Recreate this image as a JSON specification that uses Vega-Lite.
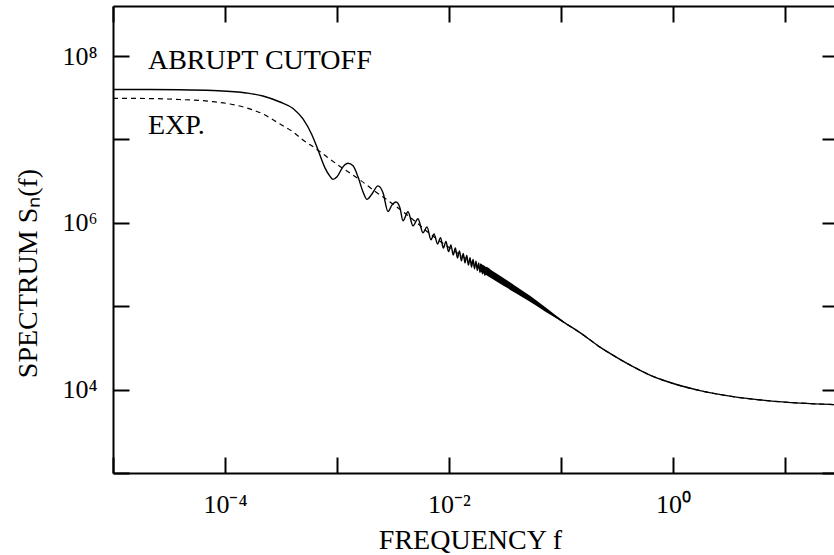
{
  "$schema": "https://vega.github.io/schema/vega-lite/v6.json",
  "width": 721,
  "height": 467,
  "autosize": {"type": "none"},
  "padding": {"left": 113, "top": 6, "right": 0, "bottom": 82},
  "background": "white",
  "config": {
    "view": {"stroke": null},
    "axis": {
      "grid": false,
      "domainColor": "black",
      "domainWidth": 2,
      "tickColor": "black",
      "tickWidth": 2,
      "labelFont": "Liberation Serif",
      "labelFontSize": 26,
      "labelColor": "black",
      "titleFont": "Liberation Serif",
      "titleFontSize": 28,
      "titleFontWeight": "normal",
      "titleColor": "black",
      "labelOverlap": false,
      "labelBound": false,
      "labelFlush": false
    }
  },
  "datasets": {
    "band": [
      {"f": 0.01891, "lo": 263000, "hi": 327000},
      {"f": 0.0268, "lo": 197000, "hi": 245000},
      {"f": 0.03885, "lo": 145500, "hi": 176500},
      {"f": 0.0529, "lo": 113200, "hi": 133600},
      {"f": 0.072, "lo": 86600, "hi": 97800},
      {"f": 0.0884, "lo": 73200, "hi": 79100},
      {"f": 0.1086, "lo": 61900, "hi": 64000},
      {"f": 0.1334, "lo": 52600, "hi": 52600}
    ],
    "dashed": [
      {"f": 0.00001, "S": 31100000},
      {"f": 0.0000214, "S": 30900000},
      {"f": 0.0000396, "S": 30100000},
      {"f": 0.0000781, "S": 28400000},
      {"f": 0.0001108, "S": 26600000},
      {"f": 0.000154, "S": 24000000},
      {"f": 0.000218, "S": 20200000},
      {"f": 0.00031, "S": 15300000},
      {"f": 0.000405, "S": 12300000},
      {"f": 0.000497, "S": 9860000},
      {"f": 0.000663, "S": 7590000},
      {"f": 0.000814, "S": 6170000},
      {"f": 0.001064, "S": 4750000},
      {"f": 0.001605, "S": 3270000},
      {"f": 0.0021, "S": 2480000},
      {"f": 0.0031, "S": 1710000},
      {"f": 0.00467, "S": 1120000},
      {"f": 0.00677, "S": 738000},
      {"f": 0.01334, "S": 392000},
      {"f": 0.0268, "S": 219000},
      {"f": 0.0529, "S": 123000},
      {"f": 0.1042, "S": 65200},
      {"f": 0.1478, "S": 48200},
      {"f": 0.223, "S": 32300},
      {"f": 0.3162, "S": 24200},
      {"f": 0.4394, "S": 18860},
      {"f": 0.6232, "S": 14920},
      {"f": 0.884, "S": 12500},
      {"f": 1.742, "S": 9730},
      {"f": 3.434, "S": 8240},
      {"f": 6.91, "S": 7380},
      {"f": 13.61, "S": 6890},
      {"f": 27.38, "S": 6610}
    ],
    "solid": [
      {"f": 0.00001, "S": 39700000},
      {"f": 0.0000214, "S": 39700000},
      {"f": 0.0000396, "S": 39500000},
      {"f": 0.0000781, "S": 38600000},
      {"f": 0.000154, "S": 36100000},
      {"f": 0.000218, "S": 33200000},
      {"f": 0.00031, "S": 28100000},
      {"f": 0.000405, "S": 23500000},
      {"f": 0.000497, "S": 17600000},
      {"f": 0.000598, "S": 11300000},
      {"f": 0.000677, "S": 7480000},
      {"f": 0.000781, "S": 4560000},
      {"f": 0.000866, "S": 3610000},
      {"f": 0.000921, "S": 3320000},
      {"f": 0.001, "S": 3560000},
      {"f": 0.001131, "S": 4690000},
      {"f": 0.001253, "S": 5170000},
      {"f": 0.00139, "S": 4820000},
      {"f": 0.00154, "S": 3560000},
      {"f": 0.001707, "S": 2350000},
      {"f": 0.001853, "S": 1910000},
      {"f": 0.002054, "S": 2220000},
      {"f": 0.002323, "S": 2770000},
      {"f": 0.002575, "S": 2290000},
      {"f": 0.002853, "S": 1370000},
      {"f": 0.003099, "S": 1640000},
      {"f": 0.003363, "S": 1780000},
      {"f": 0.00365, "S": 1510000},
      {"f": 0.003884, "S": 1060000},
      {"f": 0.004303, "S": 1360000},
      {"f": 0.004771, "S": 920000},
      {"f": 0.005286, "S": 1120000},
      {"f": 0.005859, "S": 759000},
      {"f": 0.00636, "S": 895000},
      {"f": 0.00691, "S": 625000},
      {"f": 0.00735, "S": 738000},
      {"f": 0.0079, "S": 557000},
      {"f": 0.0084, "S": 665000},
      {"f": 0.0089, "S": 498000},
      {"f": 0.0094, "S": 598000},
      {"f": 0.0099, "S": 451000},
      {"f": 0.0104, "S": 544000},
      {"f": 0.0109, "S": 412000},
      {"f": 0.0114, "S": 498000},
      {"f": 0.0119, "S": 378000},
      {"f": 0.0124, "S": 460000},
      {"f": 0.0129, "S": 351000},
      {"f": 0.0134, "S": 430000},
      {"f": 0.0139, "S": 330000},
      {"f": 0.0144, "S": 405000},
      {"f": 0.0149, "S": 311000},
      {"f": 0.0154, "S": 383000},
      {"f": 0.0159, "S": 295000},
      {"f": 0.0164, "S": 364000},
      {"f": 0.0169, "S": 281000},
      {"f": 0.0174, "S": 346000},
      {"f": 0.0179, "S": 268000},
      {"f": 0.0184, "S": 330000},
      {"f": 0.0189, "S": 255000},
      {"f": 0.0194, "S": 316000},
      {"f": 0.0199, "S": 244000},
      {"f": 0.0204, "S": 303000},
      {"f": 0.0209, "S": 235000},
      {"f": 0.0214, "S": 292000},
      {"f": 0.0268, "S": 219000},
      {"f": 0.03504, "S": 174500},
      {"f": 0.0529, "S": 123000},
      {"f": 0.072, "S": 92000},
      {"f": 0.0884, "S": 76100},
      {"f": 0.1042, "S": 65200},
      {"f": 0.1478, "S": 48200},
      {"f": 0.223, "S": 32300},
      {"f": 0.3162, "S": 24200},
      {"f": 0.4394, "S": 18860},
      {"f": 0.6232, "S": 14920},
      {"f": 0.884, "S": 12500},
      {"f": 1.742, "S": 9730},
      {"f": 3.434, "S": 8240},
      {"f": 6.91, "S": 7380},
      {"f": 13.61, "S": 6890},
      {"f": 27.38, "S": 6610}
    ],
    "labels": [
      {"f": 0.0000205, "S": 69800000, "label": "ABRUPT CUTOFF"},
      {"f": 0.0000205, "S": 11600000, "label": "EXP."}
    ]
  },
  "layer": [
    {
      "data": {"name": "band"},
      "mark": {"type": "area", "color": "black", "interpolate": "monotone"},
      "encoding": {
        "x": {
          "field": "f", "type": "quantitative",
          "scale": {"type": "log", "domain": [0.00001, 27.38], "nice": false},
          "axis": {
            "orient": "bottom",
            "values": [0.00001, 0.0001, 0.001, 0.01, 0.1, 1, 10],
            "tickSize": -16,
            "labelPadding": 55,
            "labelBaseline": "alphabetic",
            "labelExpr": "datum.value == 0.0001 ? '10⁻⁴' : datum.value == 0.01 ? '10⁻²' : datum.value == 1 ? '10⁰' : ''",
            "title": "FREQUENCY f",
            "titleX": 357,
            "titleY": 75,
            "titleAlign": "center",
            "titleBaseline": "alphabetic",
            "titleAnchor": null
          }
        },
        "y": {
          "field": "lo", "type": "quantitative",
          "scale": {"type": "log", "domain": [1000, 398107000], "nice": false},
          "axis": {
            "orient": "left",
            "values": [1000, 10000, 100000, 1000000, 10000000, 100000000],
            "tickSize": -16,
            "labelPadding": 32,
            "labelBaseline": "middle",
            "labelExpr": "datum.value == 10000 ? '10⁴' : datum.value == 1000000 ? '10⁶' : datum.value == 100000000 ? '10⁸' : ''",
            "title": "SPECTRUM Sₙ(f)",
            "titleX": -85,
            "titleY": 267,
            "titleAngle": -90,
            "titleAlign": "center",
            "titleBaseline": "middle"
          }
        },
        "y2": {"field": "hi"}
      }
    },
    {
      "data": {"name": "dashed"},
      "mark": {"type": "line", "color": "black", "strokeWidth": 1.2, "strokeDash": [5, 4], "interpolate": "monotone"},
      "encoding": {
        "x": {
          "field": "f", "type": "quantitative",
          "axis": {
            "orient": "top",
            "values": [0.00001, 0.0001, 0.001, 0.01, 0.1, 1, 10],
            "tickSize": -16,
            "labels": false,
            "title": null
          }
        },
        "y": {
          "field": "S", "type": "quantitative",
          "axis": {
            "orient": "right",
            "values": [1000, 10000, 100000, 1000000, 10000000, 100000000],
            "tickSize": -12,
            "domain": false,
            "labels": false,
            "title": null
          }
        }
      }
    },
    {
      "data": {"name": "solid"},
      "mark": {"type": "line", "color": "black", "strokeWidth": 1.4, "interpolate": "monotone"},
      "encoding": {
        "x": {"field": "f", "type": "quantitative", "axis": null},
        "y": {"field": "S", "type": "quantitative", "axis": null}
      }
    },
    {
      "data": {"name": "labels"},
      "mark": {"type": "text", "align": "left", "baseline": "alphabetic", "font": "Liberation Serif", "fontSize": 28, "color": "black"},
      "encoding": {
        "x": {"field": "f", "type": "quantitative", "axis": null},
        "y": {"field": "S", "type": "quantitative", "axis": null},
        "text": {"field": "label"}
      }
    }
  ]
}
